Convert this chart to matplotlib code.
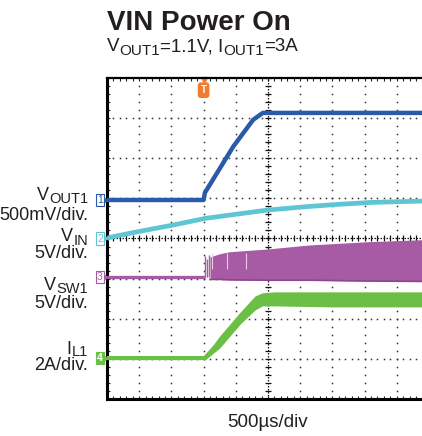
import numpy as np
import matplotlib.pyplot as plt

plt.rcParams['font.family'] = ['Liberation Sans', 'DejaVu Sans']

# time in ms (500 us/div, 10 div on screen)
t_vout1 = [0.0, 1.50, 1.52, 1.96, 2.27, 2.42, 5.0]
vout1 = [0.0, 0.0, 0.09, 0.665, 1.0, 1.085, 1.085]          # V

t_vin = [0.0, 0.045, 0.48, 1.01, 1.52, 2.03, 2.5, 3.07, 3.58, 4.11, 4.83, 5.0]
vin = [0.0, 0.15, 0.85, 1.65, 2.5, 3.05, 3.55, 3.95, 4.25, 4.5, 4.65, 4.68]   # V

t_vsw1_idle = [0.0, 1.52]
vsw1_idle = [0.0, 0.0]
t_vsw1_band = [1.60, 1.75, 1.90, 2.5, 3.15, 4.05, 4.9, 5.0]
vsw1_top = [2.5, 2.9, 3.15, 3.5, 4.0, 4.4, 4.65, 4.65]
vsw1_bot = [-0.3, -0.3, -0.35, -0.4, -0.4, -0.5, -0.55, -0.55]
vsw1_spike_t = [1.52, 1.55, 1.58]
vsw1_spike_v = [2.6, 2.3, 2.7]
vsw1_gap_t = [1.63, 1.86, 2.16]

t_il1 = [0.0, 1.52, 1.75, 2.07, 2.30, 2.41, 5.0]
il1 = [0.0, 0.0, 0.8, 2.0, 2.74, 2.92, 2.92]                  # A
t_il1_band = [1.52, 1.75, 2.07, 2.30, 2.41, 2.6, 3.5, 5.0]
il1_top = [0.1, 1.1, 2.3, 3.1, 3.25, 3.3, 3.3, 3.3]
il1_bot = [-0.1, 0.5, 1.7, 2.4, 2.6, 2.6, 2.55, 2.55]

trigger_t = 1.5

# scope channel setup: (zero position in div, units per div, colour)
CH_VOUT1 = (4.96, 0.5, '#2b5aa8')
CH_VIN = (4.0, 5.0, '#5ec6d3')
CH_VSW1 = (3.04, 5.0, '#a65ba4')
CH_IL1 = (1.02, 2.0, '#6bbf44')
ORANGE = '#ef7d31'
TXT = '#231f20'

W, H = 422, 436
RECT = [107 / W, 37 / H, 322 / W, 321 / H]


def fpos(x, y):
    # pixel position (from top-left) to figure fraction
    return x / W, 1 - y / H


def channel_axes(fig, ch):
    zero, scale, _ = ch
    a = fig.add_axes(RECT, frameon=False)
    a.set_xlim(0, 5)
    a.set_ylim(-zero * scale, (8 - zero) * scale)
    a.set_xticks([])
    a.set_yticks([])
    a.patch.set_alpha(0)
    return a


def channel_marker(a, ch, label, filled=False):
    zero, scale, color = ch
    tr = a.get_yaxis_transform()
    a.plot([-0.007], [0], marker='>', ms=4, color=color, transform=tr, clip_on=False)
    a.text(-0.013, 0, label, transform=tr, ha='right', va='center', fontsize=7.5,
           color='white' if filled else color, fontweight='bold' if filled else 'normal',
           bbox=dict(boxstyle='square,pad=0.12', fc=color if filled else 'white',
                     ec=color, lw=0.8), clip_on=False)


def rich_text(fig, x, y, pieces, ha='left'):
    # pieces: (text, fontsize, baseline drop in px); x, y in pixels from top-left
    r = fig.canvas.get_renderer()
    objs = []
    for s, size, drop in pieces:
        t = fig.text(0, 0, s, fontsize=size, va='baseline', ha='left', color=TXT)
        objs.append((t, drop, t.get_window_extent(r).width))
    total = sum(w for _, _, w in objs)
    cx = x - total if ha == 'right' else x
    for t, drop, w in objs:
        t.set_position(fpos(cx, y + drop))
        cx += w


fig = plt.figure(figsize=(W / 100, H / 100), dpi=100)
ax = fig.add_axes(RECT)
ax.set_xlim(0, 5)
ax.set_ylim(0, 8)
ax.spines['right'].set_visible(False)
ax.spines['left'].set_linewidth(2.2)
ax.spines['bottom'].set_linewidth(2.2)
ax.spines['top'].set_linewidth(1.6)
x_minor = np.arange(0, 5.001, 0.1)
y_minor = np.arange(0, 8.001, 0.2)
ax.set_xticks(x_minor)
ax.set_yticks(y_minor)
ax.tick_params(direction='in', length=2.5, width=0.8, top=True, bottom=True,
               left=True, right=False, labelbottom=False, labelleft=False,
               colors='#222222')

# dotted graticule
for xv in np.arange(0.5, 5.0, 0.5):
    if abs(xv - 2.5) > 1e-6:
        ax.plot(np.full(len(y_minor), xv), y_minor, ls='none', marker='s',
                ms=1.1, color='#333333', mew=0)
for yv in range(1, 8):
    if yv != 4:
        ax.plot(x_minor, np.full(len(x_minor), yv), ls='none', marker='s',
                ms=1.1, color='#333333', mew=0)
ax.plot([2.5, 2.5], [0, 8], ls=(0, (1.2, 1.2)), lw=0.9, color='#111111')
ax.plot([0, 5], [4, 4], ls=(0, (1.2, 1.2)), lw=0.9, color='#111111')
ax.plot(np.full(len(y_minor), 2.5), y_minor, ls='none', marker='_', ms=5,
        mew=0.9, color='#111111')
ax.plot(x_minor, np.full(len(x_minor), 4), ls='none', marker='|', ms=5,
        mew=0.9, color='#111111')

# trigger marker
xt = ax.get_xaxis_transform()
ax.plot([trigger_t], [0.993], marker='v', ms=5, color=ORANGE, transform=xt, clip_on=False)
ax.text(trigger_t, 0.962, 'T', transform=xt, ha='center', va='center', fontsize=7,
        color='white', fontweight='bold',
        bbox=dict(boxstyle='round,pad=0.22,rounding_size=0.25', fc=ORANGE, ec=ORANGE))

# traces
a1 = channel_axes(fig, CH_VOUT1)
a1.plot(t_vout1, vout1, color=CH_VOUT1[2], lw=3.2, solid_capstyle='butt')
channel_marker(a1, CH_VOUT1, '1')

a2 = channel_axes(fig, CH_VIN)
a2.plot(t_vin, vin, color=CH_VIN[2], lw=3.4, solid_capstyle='butt')
channel_marker(a2, CH_VIN, '2')

a3 = channel_axes(fig, CH_VSW1)
a3.plot(t_vsw1_idle, vsw1_idle, color=CH_VSW1[2], lw=2.4, solid_capstyle='butt')
a3.vlines(vsw1_spike_t, 0, vsw1_spike_v, color=CH_VSW1[2], lw=1.0)
a3.fill_between(t_vsw1_band, vsw1_bot, vsw1_top, color=CH_VSW1[2], lw=0)
a3.plot(t_vsw1_band, vsw1_bot, color='#8e4490', lw=1.2)
a3.vlines(vsw1_gap_t, 1.0, 3.0, color='#e8cce6', lw=0.8)
channel_marker(a3, CH_VSW1, '3')

a4 = channel_axes(fig, CH_IL1)
a4.plot(t_il1, il1, color=CH_IL1[2], lw=3.0, solid_capstyle='butt')
a4.fill_between(t_il1_band, il1_bot, il1_top, color=CH_IL1[2], lw=0)
channel_marker(a4, CH_IL1, '4', filled=True)

# titles
fig.text(*fpos(107, 30), 'VIN Power On', fontsize=20, fontweight='bold',
         va='baseline', color=TXT)
rich_text(fig, 107, 51, [('V', 13.5, 0), ('OUT1', 11, 4), ('=1.1V, I', 13.5, 0),
                         ('OUT1', 11, 4), ('=3A', 13.5, 0)])

# channel labels
rich_text(fig, 88, 200, [('V', 13, 0), ('OUT1', 10.5, 3)], ha='right')
rich_text(fig, 88, 220, [('500mV/div.', 13, 0)], ha='right')
rich_text(fig, 88, 241, [('V', 13, 0), ('IN', 10.5, 4)], ha='right')
rich_text(fig, 88, 258, [('5V/div.', 13, 0)], ha='right')
rich_text(fig, 88, 290, [('V', 13, 0), ('SW1', 10.5, 3)], ha='right')
rich_text(fig, 88, 308, [('5V/div.', 13, 0)], ha='right')
rich_text(fig, 88, 354, [('I', 13, 0), ('L1', 10.5, 2)], ha='right')
rich_text(fig, 88, 370, [('2A/div.', 13, 0)], ha='right')

fig.text(*fpos(268, 427), '500µs/div', fontsize=13.5, ha='center', va='baseline',
         color=TXT)

fig.savefig('out.png', dpi=100)
